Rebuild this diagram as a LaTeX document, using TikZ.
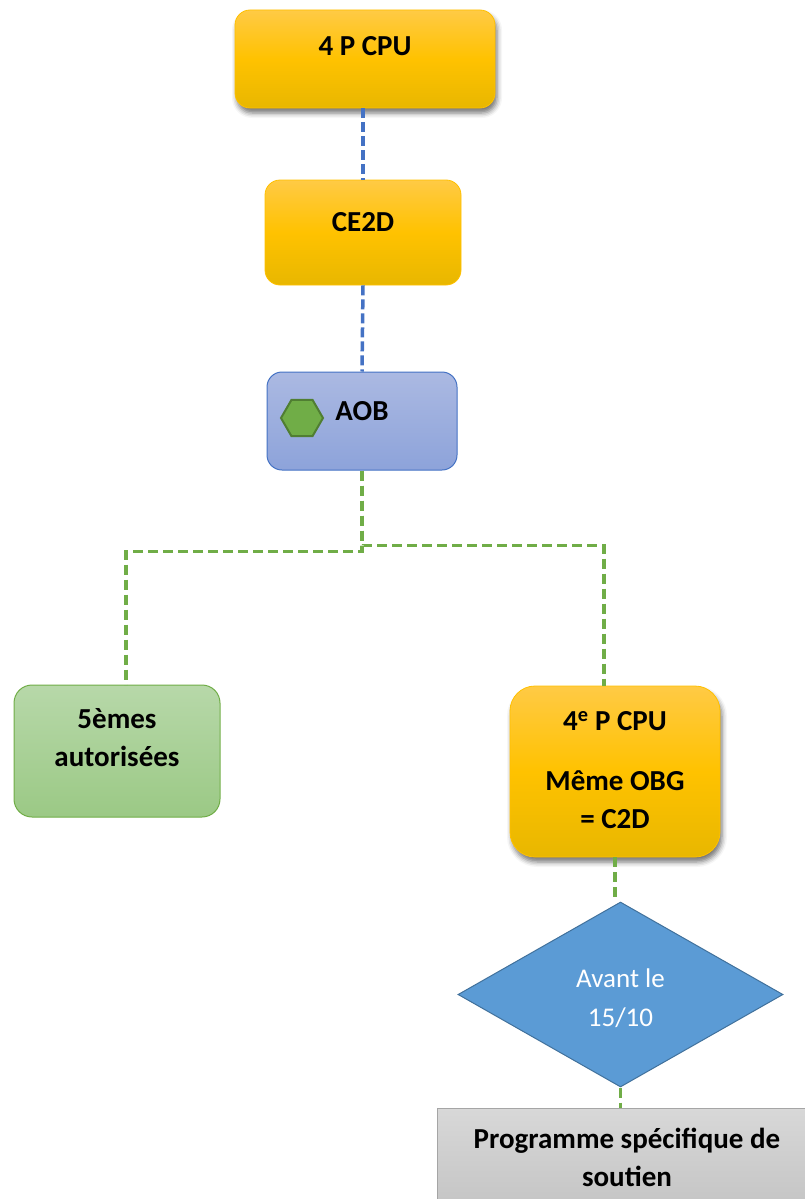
\documentclass[tikz,border=0pt]{standalone}
\usepackage{fontspec}
\setmainfont{Carlito}
\usetikzlibrary{shapes.geometric,shadows.blur}
\definecolor{goldTop}{HTML}{FFCA45}
\definecolor{goldMid}{HTML}{FFC200}
\definecolor{goldBot}{HTML}{E8B700}
\definecolor{goldLine}{HTML}{FFC000}
\definecolor{aobTop}{HTML}{ABB9E2}
\definecolor{aobBot}{HTML}{8DA3DA}
\definecolor{aobLine}{HTML}{4472C4}
\definecolor{hexFill}{HTML}{70AD47}
\definecolor{hexLine}{HTML}{507E32}
\definecolor{fifthTop}{HTML}{B7D8A9}
\definecolor{fifthBot}{HTML}{9BC985}
\definecolor{avantFill}{HTML}{5B9BD5}
\definecolor{avantLine}{HTML}{41719C}
\definecolor{greyTop}{HTML}{D8D8D8}
\definecolor{greyBot}{HTML}{BFBFBF}
\definecolor{greyLine}{HTML}{A5A5A5}
\newcommand{\shapetext}[2]{\raisebox{#1}[\height][\depth]{\begin{tabular}{@{}c@{}}#2\end{tabular}}}

\begin{document}
\begin{tikzpicture}[x=1pt,y=-1pt,
  box/.style={rectangle,rounded corners=15pt,inner sep=0pt,font=\fontsize{29}{38}\selectfont\bfseries},
  goldbox/.style={box,top color=goldTop,bottom color=goldBot,middle color=goldMid,draw=goldLine,line width=0.8pt},
  shade/.style={blur shadow={shadow xshift=2pt,shadow yshift=-5pt,shadow blur radius=5pt,shadow opacity=55}},
  blueline/.style={draw=aobLine,line width=3.5pt,dash pattern=on 10pt off 4pt},
  greenline/.style={draw=hexFill,line width=3.5pt,dash pattern=on 10pt off 5pt}]
 \useasboundingbox (0,0) rectangle (805,1199);
 \clip (0,0) rectangle (805,1199);
 \node[goldbox,shade,minimum width=260pt,minimum height=98pt] (cpu) at (365,59) {\shapetext{11pt}{4 P CPU}};
 \node[goldbox,minimum width=196pt,minimum height=105pt] (ce2d) at (363,232.5) {\shapetext{9pt}{CE2D}};
 \node[box,top color=aobTop,bottom color=aobBot,draw=aobLine,line width=1pt,minimum width=190pt,minimum height=98pt] (aob) at (362,421) {\shapetext{8pt}{AOB}};
 \node[regular polygon,regular polygon sides=6,minimum size=42pt,inner sep=0pt,fill=hexFill,draw=hexLine,line width=2pt] (hex) at (302,418) {};
 \node[box,rounded corners=18pt,top color=fifthTop,bottom color=fifthBot,draw=hexFill,line width=1pt,minimum width=206pt,minimum height=132pt] (fifth) at (117,751) {\shapetext{11pt}{5èmes\\autorisées}};
 \node[goldbox,shade,rounded corners=25pt,minimum width=210pt,minimum height=171pt] (fourth) at (615,771.5) {\shapetext{0pt}{4\textsuperscript{e} P CPU\\[22pt]Même OBG\\= C2D}};
 \node[diamond,minimum width=325pt,minimum height=185pt,inner sep=0pt,fill=avantFill,draw=avantLine,line width=1pt,text=white,font=\fontsize{27}{39}\selectfont] (avant) at (620.5,994.5) {\shapetext{-5pt}{Avant le\\15/10}};
 \node[box,rounded corners=0pt,top color=greyTop,bottom color=greyBot,draw=greyLine,line width=1pt,minimum width=380pt,minimum height=126pt] (soutien) at (627,1171) {\shapetext{11pt}{Programme spécifique de\\soutien}};
 \draw[blueline] (ce2d.north |- cpu.south) -- (ce2d.north);
 \draw[blueline] (ce2d.south) -- (aob.north);
 \draw[greenline] (aob.south) -- ++(0,81) -| ([xshift=9pt]fifth.north);
 \draw[greenline] (aob.south) -- ++(0,75) -| ([xshift=-11pt]fourth.north);
 \draw[greenline] (fourth.south) -- (fourth.south |- avant.north);
 \draw[greenline] (avant.south) -- (avant.south |- soutien.north);
\end{tikzpicture}
\end{document}
